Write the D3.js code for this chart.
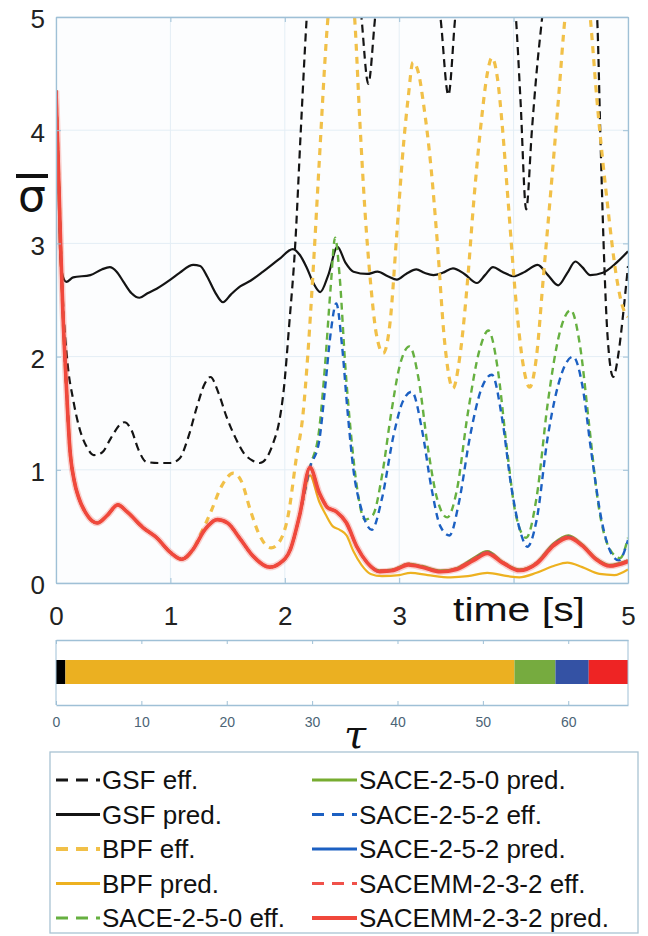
<!DOCTYPE html>
<html>
<head>
<meta charset="utf-8">
<script src="https://cdn.jsdelivr.net/npm/d3@7"></script>
<style>
  body { margin: 0; background: #fff; }
  text { font-family: "Liberation Sans", Arial, sans-serif; }
</style>
</head>
<body>
<svg id="chart" width="648" height="936"></svg>
<script>
// ---- data: [time s, sigma bar] ----
// the decay every non-GSF run shares before they split up
var common = [[0,4.35],[0.02,3.7],[0.04,3.0],[0.06,2.4],[0.09,1.75],[0.12,1.2],[0.16,0.9],[0.2,0.75],[0.26,0.62],
  [0.36,0.53],[0.45,0.6],[0.54,0.69],[0.62,0.63],[0.76,0.49],[0.88,0.4],[1.0,0.27],[1.1,0.21],[1.2,0.3],
  [1.3,0.47],[1.41,0.56],[1.5,0.53],[1.61,0.39],[1.72,0.24],[1.87,0.14],[1.95,0.17],[2.05,0.3],[2.13,0.6],[2.22,1.02]];

var gsfEff = [[0,4.35],[0.02,3.7],[0.04,3.0],[0.06,2.5],[0.1,1.95],[0.15,1.62],[0.21,1.35],[0.27,1.2],[0.33,1.13],
  [0.4,1.15],[0.48,1.28],[0.56,1.4],[0.6,1.42],[0.66,1.35],[0.72,1.18],[0.79,1.07],[0.9,1.06],[1.0,1.06],[1.08,1.1],
  [1.16,1.3],[1.23,1.55],[1.3,1.76],[1.35,1.82],[1.42,1.68],[1.49,1.47],[1.57,1.28],[1.64,1.15],[1.72,1.08],[1.78,1.06],
  [1.85,1.12],[1.9,1.24],[1.95,1.42],[1.99,1.7],[2.04,2.3],[2.09,2.97],[2.14,4.0],[2.19,4.97],[2.3,6.2],[2.45,6.6],
  [2.6,5.8],[2.67,5.0],[2.73,4.41],[2.79,5.0],[2.9,5.9],[3.1,6.2],[3.3,5.4],[3.36,5.0],[3.43,4.31],[3.49,5.0],[3.6,5.8],
  [3.8,6.2],[3.95,5.6],[4.02,5.0],[4.06,4.27],[4.11,3.3],[4.16,4.0],[4.2,4.5],[4.25,5.0],[4.35,5.9],[4.5,6.3],[4.65,5.8],
  [4.73,5.0],[4.76,3.9],[4.79,2.9],[4.82,2.2],[4.87,1.82],[4.92,2.05],[4.96,2.4],[5.0,2.8]];

var gsfPred = [[0,4.35],[0.02,3.6],[0.035,2.95],[0.05,2.75],[0.09,2.66],[0.15,2.7],[0.3,2.72],[0.4,2.77],[0.47,2.79],
  [0.53,2.75],[0.59,2.66],[0.66,2.56],[0.73,2.52],[0.8,2.56],[0.88,2.6],[1.0,2.68],[1.08,2.74],[1.2,2.81],[1.26,2.8],
  [1.32,2.71],[1.39,2.57],[1.46,2.48],[1.53,2.55],[1.61,2.62],[1.7,2.67],[1.81,2.75],[1.95,2.86],[2.07,2.95],[2.13,2.9],
  [2.19,2.79],[2.25,2.65],[2.31,2.57],[2.38,2.72],[2.46,2.97],[2.53,2.83],[2.6,2.75],[2.72,2.73],[2.81,2.75],[2.9,2.71],
  [2.98,2.68],[3.06,2.73],[3.15,2.77],[3.22,2.74],[3.3,2.72],[3.38,2.74],[3.47,2.78],[3.57,2.73],[3.68,2.65],[3.75,2.72],
  [3.82,2.79],[3.9,2.75],[4.0,2.71],[4.1,2.75],[4.21,2.81],[4.3,2.72],[4.39,2.63],[4.47,2.74],[4.54,2.84],[4.6,2.79],
  [4.67,2.72],[4.78,2.74],[4.9,2.83],[5.0,2.93]];

var bpfEffTail = [[1.25,0.4],[1.35,0.62],[1.45,0.86],[1.55,0.97],[1.62,0.9],[1.7,0.64],[1.78,0.42],[1.88,0.31],[1.95,0.36],
  [2.03,0.6],[2.1,1.1],[2.16,1.5],[2.2,2.0],[2.25,2.8],[2.3,3.7],[2.37,4.9],[2.45,5.6],[2.53,5.6],[2.61,5.0],[2.66,4.0],
  [2.7,3.3],[2.75,2.65],[2.8,2.2],[2.86,2.03],[2.92,2.3],[2.98,3.1],[3.04,3.9],[3.08,4.3],[3.12,4.6],[3.17,4.5],[3.21,4.25],
  [3.28,3.65],[3.33,3.05],[3.4,2.1],[3.47,1.72],[3.53,2.0],[3.6,2.7],[3.65,3.35],[3.72,4.1],[3.77,4.5],[3.81,4.64],
  [3.86,4.45],[3.9,4.05],[3.95,3.4],[4.02,2.5],[4.08,1.95],[4.14,1.73],[4.2,2.0],[4.26,2.7],[4.32,3.4],[4.39,4.25],
  [4.45,5.0],[4.55,5.6],[4.62,5.5],[4.67,5.0],[4.73,4.25],[4.82,3.35],[4.9,2.7],[4.95,2.45],[5.0,2.35]];

var bpfPredTail = [[2.22,0.95],[2.3,0.72],[2.36,0.6],[2.42,0.5],[2.48,0.47],[2.54,0.42],[2.6,0.28],[2.67,0.16],[2.75,0.08],
  [2.85,0.06],[3.0,0.07],[3.1,0.09],[3.25,0.07],[3.45,0.05],[3.6,0.06],[3.77,0.09],[3.95,0.06],[4.05,0.05],[4.2,0.09],
  [4.35,0.15],[4.47,0.18],[4.6,0.14],[4.75,0.08],[4.88,0.07],[5.0,0.12]];

var sace250EffTail = [[2.3,1.35],[2.35,1.9],[2.4,2.6],[2.44,3.05],[2.48,2.7],[2.53,1.9],[2.58,1.3],[2.63,0.85],[2.7,0.56],
  [2.77,0.6],[2.85,0.95],[2.93,1.5],[3.0,1.9],[3.09,2.09],[3.17,1.8],[3.25,1.2],[3.33,0.75],[3.42,0.58],[3.5,0.8],[3.6,1.5],
  [3.7,2.05],[3.78,2.23],[3.86,1.9],[3.94,1.2],[4.02,0.6],[4.11,0.4],[4.2,0.75],[4.3,1.6],[4.4,2.2],[4.5,2.41],[4.58,2.1],
  [4.66,1.4],[4.74,0.7],[4.83,0.32],[4.93,0.22],[5.0,0.4]];

var sace252EffTail = [[2.3,1.25],[2.35,1.7],[2.4,2.2],[2.45,2.47],[2.5,2.1],[2.55,1.5],[2.6,1.0],[2.67,0.65],[2.76,0.47],
  [2.85,0.75],[2.95,1.3],[3.03,1.6],[3.11,1.69],[3.2,1.35],[3.28,0.85],[3.36,0.5],[3.44,0.42],[3.52,0.7],[3.62,1.3],
  [3.72,1.72],[3.81,1.84],[3.9,1.45],[3.98,0.85],[4.06,0.45],[4.12,0.32],[4.2,0.55],[4.3,1.3],[4.42,1.85],[4.52,2.0],
  [4.6,1.75],[4.68,1.15],[4.77,0.55],[4.86,0.25],[4.92,0.2],[5.0,0.38]];

var sace250PredTail = [[2.3,0.8],[2.37,0.67],[2.45,0.63],[2.54,0.53],[2.63,0.32],[2.72,0.18],[2.83,0.11],[2.95,0.12],
  [3.08,0.17],[3.2,0.15],[3.36,0.11],[3.5,0.13],[3.65,0.22],[3.77,0.28],[3.9,0.19],[4.05,0.12],[4.2,0.18],[4.35,0.35],
  [4.48,0.42],[4.6,0.34],[4.72,0.22],[4.84,0.16],[5.0,0.2]];

var sace252PredTail = [[2.3,0.8],[2.37,0.67],[2.45,0.63],[2.54,0.53],[2.63,0.32],[2.72,0.18],[2.83,0.1],[2.95,0.11],
  [3.08,0.16],[3.2,0.14],[3.36,0.1],[3.5,0.12],[3.65,0.21],[3.77,0.27],[3.9,0.18],[4.05,0.11],[4.2,0.17],[4.35,0.34],
  [4.48,0.41],[4.6,0.33],[4.72,0.21],[4.84,0.15],[5.0,0.19]];

var sacemmEffTail = [[2.3,0.8],[2.37,0.68],[2.45,0.63],[2.54,0.52],[2.63,0.32],[2.72,0.18],[2.83,0.11],[2.95,0.12],
  [3.08,0.17],[3.2,0.14],[3.36,0.1],[3.5,0.13],[3.65,0.21],[3.77,0.27],[3.9,0.19],[4.05,0.11],[4.2,0.18],[4.35,0.34],
  [4.48,0.41],[4.6,0.33],[4.72,0.21],[4.84,0.15],[5.0,0.2]];

var sacemmPredTail = [[2.3,0.8],[2.37,0.67],[2.45,0.63],[2.54,0.53],[2.63,0.32],[2.72,0.18],[2.83,0.1],[2.95,0.11],
  [3.08,0.16],[3.2,0.14],[3.36,0.1],[3.5,0.12],[3.65,0.2],[3.77,0.26],[3.9,0.18],[4.05,0.11],[4.2,0.17],[4.35,0.33],
  [4.48,0.4],[4.6,0.33],[4.72,0.21],[4.84,0.15],[5.0,0.19]];

// computation time tau of each filter (stacked bar)
var tauNames = ["GSF", "BPF", "SACE-2-5-0", "SACE-2-5-2", "SACEMM-2-3-2"];
var tauValues = [1.1, 52.6, 4.8, 3.9, 4.6];

var timeTicks = [0, 1, 2, 3, 4, 5];
var sigmaTicks = [0, 1, 2, 3, 4, 5];
var tauTicks = [0, 10, 20, 30, 40, 50, 60];

function upTo(arr, t) { return arr.filter(function(d) { return d[0] <= t; }); }

// legend order = drawing order
var series = [
  {label: "GSF eff.",            data: gsfEff,                                   color: "#141414", w: 2.2, dash: "8,5"},
  {label: "GSF pred.",           data: gsfPred,                                  color: "#141414", w: 2.2, dash: null},
  {label: "BPF eff.",            data: upTo(common, 1.2).concat(bpfEffTail),     color: "#F1C048", w: 3.2, dash: "7,6"},
  {label: "BPF pred.",           data: upTo(common, 2.13).concat(bpfPredTail),   color: "#EDB120", w: 2.2, dash: null},
  {label: "SACE-2-5-0 eff.",     data: common.concat(sace250EffTail),            color: "#66B040", w: 2.4, dash: "7,5"},
  {label: "SACE-2-5-0 pred.",    data: common.concat(sace250PredTail),           color: "#77AC30", w: 2.4, dash: null},
  {label: "SACE-2-5-2 eff.",     data: common.concat(sace252EffTail),            color: "#1C60C2", w: 2.4, dash: "7,5"},
  {label: "SACE-2-5-2 pred.",    data: common.concat(sace252PredTail),           color: "#1C60C2", w: 2.4, dash: null},
  {label: "SACEMM-2-3-2 eff.",   data: common.concat(sacemmEffTail),             color: "#F0514A", w: 2.6, dash: "7,5"},
  {label: "SACEMM-2-3-2 pred.",  data: common.concat(sacemmPredTail),            color: "#F0483C", w: 3.6, dash: null}
];

var tauColors = ["#000000", "#EBB021", "#76AB3F", "#3452A4", "#EE2424"];

var svg = d3.select("#chart");
var frameColor = "#9fc0d6", gridColor = "#e4eef5";

// ---- main axes ----
var m = {left: 56, top: 17, right: 628, bottom: 583};
var x = d3.scaleLinear().domain([0, 5]).range([m.left, m.right]);
var y = d3.scaleLinear().domain([0, 5]).range([m.bottom, m.top]);

svg.append("rect").attr("x", m.left).attr("y", m.top)
  .attr("width", m.right - m.left).attr("height", m.bottom - m.top).attr("fill", "#fcfdfe");

// grid
svg.append("g").selectAll("line").data(timeTicks).enter().append("line")
  .attr("x1", function(d) { return x(d); }).attr("x2", function(d) { return x(d); })
  .attr("y1", m.top).attr("y2", m.bottom).attr("stroke", gridColor);
svg.append("g").selectAll("line").data(sigmaTicks).enter().append("line")
  .attr("y1", function(d) { return y(d); }).attr("y2", function(d) { return y(d); })
  .attr("x1", m.left).attr("x2", m.right).attr("stroke", gridColor);

svg.append("clipPath").attr("id", "plotClip").append("rect")
  .attr("x", m.left).attr("y", m.top).attr("width", m.right - m.left).attr("height", m.bottom - m.top);

var line = d3.line()
  .x(function(d) { return x(d[0]); })
  .y(function(d) { return y(d[1]); })
  .curve(d3.curveMonotoneX);

var lines = svg.append("g").attr("clip-path", "url(#plotClip)");
series.forEach(function(s, i) {
  if (i === series.length - 1) {
    // soft halo round the top red line
    lines.append("path").datum(s.data).attr("d", line).attr("fill", "none")
      .attr("stroke", s.color).attr("stroke-opacity", 0.25).attr("stroke-width", s.w + 3);
  }
  lines.append("path").datum(s.data)
    .attr("d", line)
    .attr("fill", "none")
    .attr("stroke", s.color)
    .attr("stroke-width", s.w)
    .attr("stroke-dasharray", s.dash)
    .attr("stroke-linejoin", "round");
});

// axes with inward ticks; the "4" label is hidden under the axis title
var xAxis = svg.append("g").attr("transform", "translate(0," + m.bottom + ")")
  .call(d3.axisBottom(x).tickValues(timeTicks).tickSizeInner(-5).tickSizeOuter(0).tickPadding(24)
    .tickFormat(function(d) { return d === 4 ? "" : d3.format("d")(d); }));
var yAxis = svg.append("g").attr("transform", "translate(" + m.left + ",0)")
  .call(d3.axisLeft(y).tickValues(sigmaTicks).tickSizeInner(-5).tickSizeOuter(0).tickPadding(11).tickFormat(d3.format("d")));
svg.append("g").attr("transform", "translate(0," + m.top + ")")
  .call(d3.axisTop(x).tickValues(timeTicks).tickSizeInner(-5).tickSizeOuter(0).tickFormat(""));
svg.append("g").attr("transform", "translate(" + m.right + ",0)")
  .call(d3.axisRight(y).tickValues(sigmaTicks).tickSizeInner(-5).tickSizeOuter(0).tickFormat(""));
svg.selectAll(".domain").attr("stroke", frameColor).attr("stroke-width", 1.3);
svg.selectAll(".tick line").attr("stroke", frameColor);
xAxis.selectAll("text").attr("font-size", 26).attr("fill", "#222");
yAxis.selectAll("text").attr("font-size", 26).attr("fill", "#222").attr("dy", "0.42em");

svg.append("text").attr("x", 453).attr("y", 621)
  .attr("font-size", 34).attr("textLength", 132).attr("lengthAdjust", "spacingAndGlyphs")
  .attr("fill", "#111").text("time [s]");

// sigma-bar label
svg.append("text").attr("x", 32).attr("y", 211).attr("text-anchor", "middle")
  .style("font-family", "'DejaVu Sans', sans-serif").attr("font-size", 44).attr("fill", "#111").text("σ");
svg.append("line").attr("x1", 16).attr("x2", 48).attr("y1", 176).attr("y2", 176)
  .attr("stroke", "#111").attr("stroke-width", 4);

// ---- tau bar ----
var b = {top: 640, bottom: 705, barTop: 660, barBottom: 684};
var xt = d3.scaleLinear().domain([0, 67]).range([m.left, m.right]);
var stacked = [], acc = 0;
tauValues.forEach(function(v, i) { stacked.push({name: tauNames[i], x0: acc, x1: acc + v, color: tauColors[i]}); acc += v; });

svg.append("g").selectAll("rect").data(stacked).enter().append("rect")
  .attr("x", function(d) { return xt(d.x0); })
  .attr("width", function(d) { return xt(d.x1) - xt(d.x0); })
  .attr("y", b.barTop).attr("height", b.barBottom - b.barTop)
  .attr("fill", function(d) { return d.color; });

var tAxis = svg.append("g").attr("transform", "translate(0," + b.bottom + ")")
  .call(d3.axisBottom(xt).tickValues(tauTicks).tickSizeInner(-4).tickSizeOuter(0).tickPadding(12));
svg.append("g").attr("transform", "translate(0," + b.top + ")")
  .call(d3.axisTop(xt).tickValues(tauTicks).tickSizeInner(-4).tickSizeOuter(0).tickFormat(""));
svg.append("line").attr("x1", m.left).attr("x2", m.left).attr("y1", b.top).attr("y2", b.bottom).attr("stroke", frameColor);
svg.append("line").attr("x1", m.right).attr("x2", m.right).attr("y1", b.top).attr("y2", b.bottom).attr("stroke", frameColor);
svg.selectAll(".domain").attr("stroke", frameColor).attr("stroke-width", 1.3);
svg.selectAll(".tick line").attr("stroke", frameColor);
tAxis.selectAll("text").attr("font-size", 14).attr("fill", "#4b6476");

svg.append("text").attr("x", 355).attr("y", 748).attr("text-anchor", "middle")
  .style("font-family", "'DejaVu Serif', serif").style("font-style", "italic")
  .attr("font-size", 40).attr("fill", "#111").text("τ");

// ---- legend ----
var lg = {left: 50, top: 752, right: 638, bottom: 933, row0: 780, rowStep: 34.5};
svg.append("rect").attr("x", lg.left).attr("y", lg.top)
  .attr("width", lg.right - lg.left).attr("height", lg.bottom - lg.top)
  .attr("fill", "#fff").attr("stroke", "#a9c3d3").attr("stroke-width", 1.3);

var cols = [{lx0: 56, lx1: 100, tx: 102}, {lx0: 312, lx1: 357, tx: 359}];
series.forEach(function(s, i) {
  var c = cols[Math.floor(i / 5)], yy = lg.row0 + (i % 5) * lg.rowStep;
  svg.append("line").attr("x1", c.lx0).attr("x2", c.lx1).attr("y1", yy).attr("y2", yy)
    .attr("stroke", s.color).attr("stroke-width", s.w + 0.6)
    .attr("stroke-dasharray", s.dash ? "12,8" : null);
  svg.append("text").attr("x", c.tx).attr("y", yy).attr("dy", "0.35em")
    .attr("font-size", 26).attr("fill", "#111").text(s.label);
});
</script>
</body>
</html>
